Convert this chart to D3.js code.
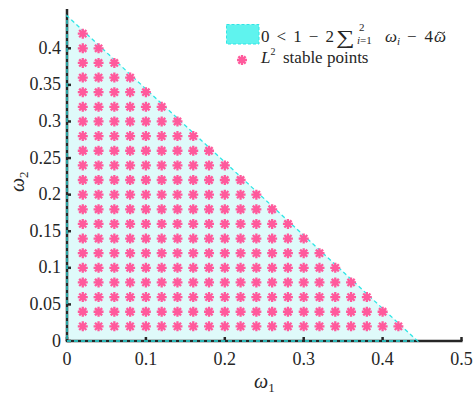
<!DOCTYPE html>
<html lang="en">
<head>
    <meta charset="UTF-8">
    <title>L2 stable region</title>
    <style>
        body {margin: 0; background: white;}
    </style>
    <script src="https://cdn.jsdelivr.net/npm/d3@7"></script>
</head>
<body>
<script>
    const width = 473;
    const height = 395;

    // data
    const xTicks = [0, 0.1, 0.2, 0.3, 0.4, 0.5];
    const yTicks = [0, 0.05, 0.1, 0.15, 0.2, 0.25, 0.3, 0.35, 0.4];
    const regionCorners = [[0, 0], [0.4444, 0], [0, 0.4444]];
    const gridValues = [0.02, 0.04, 0.06, 0.08, 0.1, 0.12, 0.14, 0.16, 0.18, 0.2, 0.22,
                        0.24, 0.26, 0.28, 0.3, 0.32, 0.34, 0.36, 0.38, 0.4, 0.42];
    const stableLimit = 0.44;

    const stablePoints = [];
    gridValues.forEach(w1 => gridValues.forEach(w2 => {
        if (w1 + w2 <= stableLimit + 1e-9) stablePoints.push([w1, w2]);
    }));

    const svg = d3.select("body").append("svg")
            .attr("width", width).attr("height", height)
            .style("font-family", '"Liberation Serif"')
            .style("fill", "#262626");

    const x = d3.scaleLinear().domain([0, 0.5]).range([67, 461.5]);
    const y = d3.scaleLinear().domain([0, 0.4537]).range([341, 9]);

    const axisColor = "#262626";
    const pink = "#ff5a9c";

    // region
    svg.append("path")
        .attr("d", d3.line().x(d => x(d[0])).y(d => y(d[1]))(regionCorners) + "Z")
        .style("fill", "#dffafa")
        .style("stroke", "none");

    // axes
    svg.append("line").attr("x1", x(0)).attr("x2", x(0)).attr("y1", y.range()[1]).attr("y2", y(0))
        .style("stroke", axisColor).style("stroke-width", 2.5);
    svg.append("line").attr("x1", x(0) - 1.25).attr("x2", x(0.5) + 1).attr("y1", y(0)).attr("y2", y(0))
        .style("stroke", axisColor).style("stroke-width", 2.5);

    svg.selectAll("line.ytick").data(yTicks).join("line").attr("class", "ytick")
        .attr("x1", x(0)).attr("x2", x(0) + 4)
        .attr("y1", d => y(d)).attr("y2", d => y(d))
        .style("stroke", axisColor).style("stroke-width", 2.5);
    svg.selectAll("line.xtick").data(xTicks).join("line").attr("class", "xtick")
        .attr("x1", d => x(d)).attr("x2", d => x(d))
        .attr("y1", y(0)).attr("y2", y(0) - 4)
        .style("stroke", axisColor).style("stroke-width", 2.5);

    svg.selectAll("text.ylab").data(yTicks).join("text").attr("class", "ylab")
        .attr("x", x(0) - 6).attr("y", d => y(d) + 5.5)
        .attr("text-anchor", "end")
        .style("font-size", "18px")
        .text(d => d3.format("")(d));
    svg.selectAll("text.xlab").data(xTicks).join("text").attr("class", "xlab")
        .attr("x", d => x(d)).attr("y", 365)
        .attr("text-anchor", "middle")
        .style("font-size", "18px")
        .text(d => d3.format("")(d));

    // region outline (dashed, drawn over the axes)
    svg.append("path")
        .attr("d", d3.line().x(d => x(d[0])).y(d => y(d[1]))(regionCorners) + "Z")
        .style("fill", "none")
        .style("stroke", "#2ee6e6")
        .style("stroke-width", 1.3)
        .style("stroke-dasharray", "4,3");

    // asterisk markers
    const star = "M-5,0L5,0M0,-5L0,5M-3.6,-3.6L3.6,3.6M-3.6,3.6L3.6,-3.6";
    svg.selectAll("path.pt").data(stablePoints).join("path").attr("class", "pt")
        .attr("transform", d => `translate(${x(d[0])},${y(d[1])})`)
        .attr("d", star)
        .style("stroke", pink).style("stroke-width", 2.3).style("fill", "none");

    // axis titles
    const xt = svg.append("text").attr("x", 254).attr("y", 388).style("font-size", "20px").style("font-style", "italic");
    xt.append("tspan").text("ω");
    xt.append("tspan").attr("dy", 4).style("font-size", "13px").style("font-style", "normal").text("1");

    const yt = svg.append("text").attr("transform", "translate(24,192) rotate(-90)").style("font-size", "20px").style("font-style", "italic");
    yt.append("tspan").text("ω");
    yt.append("tspan").attr("dy", 4).style("font-size", "13px").style("font-style", "normal").text("2");

    // legend
    const legend = svg.append("g");
    legend.append("rect").attr("x", 226.5).attr("y", 24.5).attr("width", 32.5).attr("height", 19.5)
        .style("fill", "#5ff3ee").style("stroke", "#33e5e5").style("stroke-width", 1)
        .style("stroke-dasharray", "3,2");

    const fs = "17px";
    legend.append("text").attr("x", 261).attr("y", 42).style("font-size", fs)
        .attr("textLength", 73).attr("lengthAdjust", "spacing").text("0 < 1 − 2");
    legend.append("text").attr("transform", "translate(336,44) scale(1.3,1)")
        .style("font-size", "20px").text("∑");
    legend.append("text").attr("x", 359).attr("y", 31).style("font-size", "11px").text("2");
    const sub = legend.append("text").attr("x", 357).attr("y", 44).style("font-size", "11px");
    sub.append("tspan").style("font-style", "italic").text("i");
    sub.append("tspan").text("=1");
    const wi = legend.append("text").attr("x", 385).attr("y", 42).style("font-size", fs);
    wi.append("tspan").style("font-style", "italic").text("ω");
    wi.append("tspan").attr("dy", 3).style("font-size", "11px").style("font-style", "italic").text("i");
    legend.append("text").attr("x", 407).attr("y", 42).style("font-size", fs)
        .attr("textLength", 26).attr("lengthAdjust", "spacing").text("− 4");
    legend.append("text").attr("x", 434).attr("y", 42).style("font-size", fs).style("font-style", "italic").text("ω");
    legend.append("path").attr("d", "M437,33.5 q2,-2.5 4,-0.8 t4,-0.8")
        .style("fill", "none").style("stroke", "#262626").style("stroke-width", 1);

    legend.append("path").attr("transform", "translate(242,60)").attr("d", star)
        .style("stroke", pink).style("stroke-width", 2.3).style("fill", "none");
    const l2 = legend.append("text").attr("x", 261).attr("y", 63).style("font-size", fs);
    l2.append("tspan").style("font-style", "italic").text("L");
    l2.append("tspan").attr("dy", -8).style("font-size", "10px").text("2");
    l2.append("tspan").attr("x", 283).attr("dy", 8).text("stable points");
</script>
</body>
</html>
